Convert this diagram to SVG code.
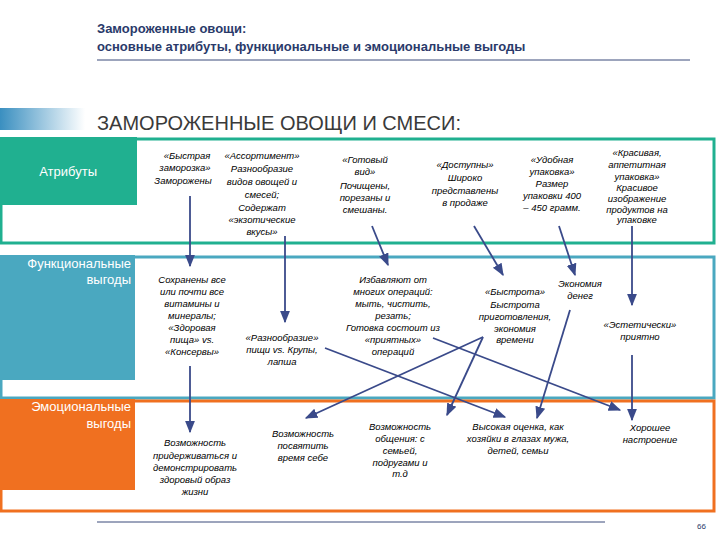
<svg xmlns="http://www.w3.org/2000/svg" width="720" height="540" viewBox="0 0 720 540">
<defs>
<linearGradient id="g" x1="0" x2="1"><stop offset="0" stop-color="#3a8fc0"/><stop offset="1" stop-color="#ffffff"/></linearGradient>
<marker id="a" viewBox="0 0 10 10" refX="9" refY="5" markerWidth="7" markerHeight="7" orient="auto"><path d="M0,1 L10,5 L0,9 z" fill="#3a4a8a"/></marker>
<style>
.t{font-family:"Liberation Sans",Arial,sans-serif;font-size:9.5px;font-style:italic;fill:#000;text-anchor:middle}
.h{font-family:"Liberation Sans",Arial,sans-serif;font-size:13px;font-weight:bold;fill:#2a3a6a}
.lb{font-family:"Liberation Sans",Arial,sans-serif;font-size:13px;fill:#fff;text-anchor:end}
.c{fill:none;stroke:#3a4a8a;stroke-width:1.8;marker-end:url(#a)}
</style>
</defs>
<rect width="720" height="540" fill="#fff"/>
<text class="h" x="97" y="33">Замороженные овощи:</text>
<text class="h" x="97" y="51">основные атрибуты, функциональные и эмоциональные выгоды</text>
<line x1="97" y1="60" x2="690" y2="60" stroke="#3a4a7a" stroke-width="1"/>
<rect x="0" y="108" width="85" height="22" fill="url(#g)"/>
<text x="97" y="130" font-family="Liberation Sans,Arial,sans-serif" font-size="20" fill="#3a3a3a">ЗАМОРОЖЕННЫЕ ОВОЩИ И СМЕСИ:</text>
<g id="attr"><rect x="1" y="139" width="713" height="104" fill="none" stroke="#20b090" stroke-width="3"/><rect x="0" y="137" width="137" height="68" fill="#20b090"/><text class="lb" x="97" y="176">Атрибуты</text></g>
<g id="func"><rect x="1" y="257" width="713" height="141" fill="none" stroke="#4aa8c0" stroke-width="3"/><rect x="0" y="255" width="135" height="125" fill="#4aa8c0"/><text class="lb" x="131" y="268">Функциональные</text><text class="lb" x="131" y="284">выгоды</text></g>
<g id="emo"><rect x="1" y="401" width="713" height="110" fill="none" stroke="#f07020" stroke-width="3"/><rect x="0" y="399" width="135" height="91" fill="#f07020"/><text class="lb" x="131" y="411">Эмоциональные</text><text class="lb" x="131" y="428">выгоды</text></g>
<g id="a1" class="t"><text x="187" y="159">«Быстрая</text><text x="185" y="171">заморозка»</text><text x="183" y="184">Заморожены</text></g>
<g id="a2" class="t"><text x="262" y="159">«Ассортимент»</text><text x="262" y="172">Разнообразие</text><text x="262" y="185">видов овощей и</text><text x="262" y="198">смесей;</text><text x="262" y="211">Содержат</text><text x="262" y="223">«экзотические</text><text x="262" y="235">вкусы»</text></g>
<g id="a3" class="t"><text x="365" y="163">«Готовый</text><text x="365" y="175">вид»</text><text x="365" y="189">Почищены,</text><text x="365" y="201">порезаны и</text><text x="365" y="213">смешаны.</text></g>
<g id="a4" class="t"><text x="465" y="168">«Доступны»</text><text x="465" y="181">Широко</text><text x="465" y="194">представлены</text><text x="465" y="206">в продаже</text></g>
<g id="a5" class="t"><text x="552" y="163">«Удобная</text><text x="552" y="175">упаковка»</text><text x="552" y="187">Размер</text><text x="552" y="199">упаковки 400</text><text x="552" y="211">– 450 грамм.</text></g>
<g id="a6" class="t"><text x="637" y="156">«Красивая,</text><text x="637" y="168">аппетитная</text><text x="637" y="180">упаковка»</text><text x="637" y="191">Красивое</text><text x="637" y="202">изображение</text><text x="637" y="213">продуктов на</text><text x="637" y="223">упаковке</text></g>
<g id="f1" class="t"><text x="192" y="283">Сохранены все</text><text x="192" y="295">или почти все</text><text x="192" y="307">витамины и</text><text x="192" y="319">минералы;</text><text x="192" y="331">«Здоровая</text><text x="192" y="343">пища» vs.</text><text x="192" y="355">«Консервы»</text></g>
<g id="f2" class="t"><text x="282" y="341">«Разнообразие»</text><text x="282" y="353">пищи vs. Крупы,</text><text x="282" y="365">лапша</text></g>
<g id="f3" class="t"><text x="393" y="283">Избавляют от</text><text x="393" y="295">многих операций:</text><text x="393" y="307">мыть, чистить,</text><text x="393" y="319">резать;</text><text x="393" y="331">Готовка состоит из</text><text x="393" y="343">«приятных»</text><text x="393" y="355">операций</text></g>
<g id="f4" class="t"><text x="515" y="295">«Быстрота»</text><text x="515" y="308">Быстрота</text><text x="515" y="320">приготовления,</text><text x="515" y="332">экономия</text><text x="515" y="343">времени</text></g>
<g id="f5" class="t"><text x="580" y="287">Экономия</text><text x="580" y="299">денег</text></g>
<g id="f6" class="t"><text x="640" y="328">«Эстетически»</text><text x="640" y="340">приятно</text></g>
<g id="e1" class="t"><text x="195" y="446">Возможность</text><text x="195" y="459">придерживаться и</text><text x="195" y="471">демонстрировать</text><text x="195" y="483">здоровый образ</text><text x="195" y="495">жизни</text></g>
<g id="e2" class="t"><text x="303" y="437">Возможность</text><text x="303" y="449">посвятить</text><text x="303" y="461">время себе</text></g>
<g id="e3" class="t"><text x="400" y="430">Возможность</text><text x="400" y="442">общения: с</text><text x="400" y="454">семьей,</text><text x="400" y="466">подругами и</text><text x="400" y="477">т.д</text></g>
<g id="e4" class="t"><text x="518" y="430">Высокая оценка, как</text><text x="518" y="442">хозяйки в глазах мужа,</text><text x="518" y="454">детей, семьи</text></g>
<g id="e5" class="t"><text x="650" y="431">Хорошее</text><text x="650" y="443">настроение</text></g>
<g id="connectors">
<path class="c" d="M190,196 L190,266"/>
<path class="c" d="M190,366 L190,432"/>
<path class="c" d="M285,236 L285,322"/>
<path class="c" d="M372,226 L388,265"/>
<path class="c" d="M474,226 L503,275"/>
<path class="c" d="M559,226 L575,275"/>
<path class="c" d="M632,226 L632,305"/>
<path class="c" d="M632,355 L632,420"/>
<path class="c" d="M570,310 L537,418"/>
<path class="c" d="M483,337 L306,418"/>
<path class="c" d="M483,337 L447,415"/>
<path class="c" d="M325,348 L505,417"/>
<path class="c" d="M433,338 L620,410"/>
</g>
<line x1="97" y1="522" x2="605" y2="522" stroke="#3a4a7a" stroke-width="1"/>
<text x="706" y="529" font-family="Liberation Sans,Arial,sans-serif" font-size="8" fill="#2a3a6a" text-anchor="end">66</text>
</svg>
